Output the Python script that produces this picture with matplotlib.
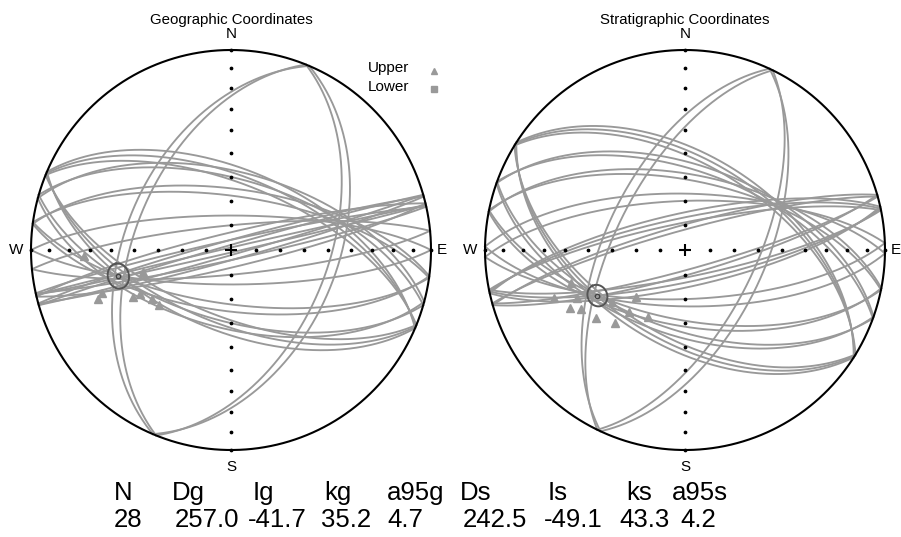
import numpy as np
import matplotlib.pyplot as plt

plt.rcParams['font.family'] = ['Liberation Sans', 'DejaVu Sans']

# remagnetisation great circles (strike, dip in degrees)
geo_strike = [23, 22, 74.5, 74, 77, 77.5, 76.5, 84.5, 90, 98, 97.5, 106, 105, 112.5, 113, 112]
geo_dip = [46, 50, 86, 88, 89, 86, 83, 80, 76, 68, 65, 61, 58, 60, 57, 63]
strat_strike = [26, 25, 74, 74.5, 78, 78.5, 77.5, 88, 91, 101.5, 101, 110, 109.5, 122, 122.5, 121.5]
strat_dip = [61, 57, 80, 82, 77, 79, 75, 70, 67, 61.5, 59, 57.5, 55, 53, 51, 55]

# set-point directions (upper hemisphere)
geo_dec = [267.7, 251.6, 249.8, 244.4, 244.2, 238.2, 232.6, 256.0]
geo_inc = [-27.3, -32.5, -29.9, -44.8, -48.2, -51.6, -52.6, -52.6]
strat_dec = [253.9, 249.9, 246.0, 243.2, 240.4, 232.6, 223.8, 222.1, 208.9, 226.2, 234.5]
strat_inc = [-40.4, -30.9, -40.6, -35.8, -39.9, -43.3, -48.1, -55.6, -58.6, -62.2, -53.0]

# Fisher means
geo_mean_dec, geo_mean_inc, geo_a95 = 257.0, -41.7, 4.7
strat_mean_dec, strat_mean_inc, strat_a95 = 242.5, -49.1, 4.2

stats_header = ["N", "Dg", "Ig", "kg", "a95g", "Ds", "Is", "ks", "a95s"]
stats_values = ["28", "257.0", "-41.7", "35.2", "4.7", "242.5", "-49.1", "43.3", "4.2"]

GREY = '#999999'


def project(e, n, z):
    # Schmidt equal-area, hemisphere folded by |z|
    k = 1.0 / np.sqrt(1.0 + np.abs(z))
    return e * k, n * k


def dir_xy(dec, inc):
    d = np.radians(np.asarray(dec, float))
    i = np.radians(np.asarray(inc, float))
    return project(np.cos(i) * np.sin(d), np.cos(i) * np.cos(d), np.sin(i))


def great_circle(ax, strike, dip):
    t = np.radians(np.linspace(0, 180, 361))
    s = np.radians(strike)
    d = np.radians(dip)
    e = np.cos(t) * np.sin(s) + np.sin(t) * np.cos(d) * np.sin(s + np.pi / 2)
    n = np.cos(t) * np.cos(s) + np.sin(t) * np.cos(d) * np.cos(s + np.pi / 2)
    z = np.sin(t) * np.sin(d)
    x, y = project(e, n, z)
    ax.plot(x, y, color=GREY, lw=1.35)
    ax.plot(-x, -y, color=GREY, lw=1.35)


def small_circle(ax, dec, inc, a95):
    d, i = np.radians(dec), np.radians(inc)
    m = np.array([np.cos(i) * np.sin(d), np.cos(i) * np.cos(d), np.sin(i)])
    u = np.cross(m, [0, 0, 1.0])
    u /= np.linalg.norm(u)
    v = np.cross(m, u)
    phi = np.linspace(0, 2 * np.pi, 200)
    a = np.radians(a95)
    pts = np.cos(a) * m[:, None] + np.sin(a) * (np.outer(u, np.cos(phi)) + np.outer(v, np.sin(phi)))
    x, y = project(pts[0], pts[1], pts[2])
    ax.plot(x, y, color='#555555', lw=1.4, zorder=5)
    mx, my = dir_xy(dec, inc)
    ax.plot(mx, my, 'o', ms=3.2, mfc='none', mec='#444444', mew=1.0, zorder=6)


def net(ax, title):
    ax.set_xlim(-1.1, 1.1)
    ax.set_ylim(-1.1, 1.1)
    ax.set_aspect('equal')
    ax.axis('off')
    th = np.linspace(0, 2 * np.pi, 400)
    ax.plot(np.cos(th), np.sin(th), color='black', lw=1.5, zorder=4)
    incs = np.arange(0, 90, 10)
    for az in [0, 90, 180, 270]:
        x, y = dir_xy(np.full(len(incs), az), incs)
        ax.plot(x, y, 'o', color='black', ms=1.7, zorder=4)
    ax.plot(0, 0, '+', color='black', ms=9, mew=1.5, zorder=4)
    ax.text(0, 1.045, 'N', ha='center', va='bottom', fontsize=11)
    ax.text(0, -1.05, 'S', ha='center', va='top', fontsize=11)
    ax.text(-1.04, 0, 'W', ha='right', va='center', fontsize=11)
    ax.text(1.03, 0, 'E', ha='left', va='center', fontsize=11)
    ax.text(0, 1.15, title, ha='center', va='center', fontsize=10.8)


fig = plt.figure(figsize=(9.01, 5.37), dpi=100)
W, H = 901, 537
ax1 = fig.add_axes([(231 - 220) / W, (H - 250 - 220) / H, 440 / W, 440 / H])
ax2 = fig.add_axes([(685 - 220) / W, (H - 250 - 220) / H, 440 / W, 440 / H])

net(ax1, 'Geographic Coordinates')
for s, d in zip(geo_strike, geo_dip):
    great_circle(ax1, s, d)
gx, gy = dir_xy(geo_dec, geo_inc)
ax1.plot(gx, gy, '^', color=GREY, ms=5.5, zorder=5)
small_circle(ax1, geo_mean_dec, geo_mean_inc, geo_a95)

# legend
ax1.text(0.685, 0.91, 'Upper', ha='left', va='center', fontsize=11)
ax1.text(0.685, 0.815, 'Lower', ha='left', va='center', fontsize=11)
ax1.plot(1.015, 0.895, '^', color=GREY, ms=5, clip_on=False)
ax1.plot(1.015, 0.805, 's', color=GREY, ms=5, clip_on=False)

net(ax2, 'Stratigraphic Coordinates')
for s, d in zip(strat_strike, strat_dip):
    great_circle(ax2, s, d)
sx, sy = dir_xy(strat_dec, strat_inc)
ax2.plot(sx, sy, '^', color=GREY, ms=5.5, zorder=5)
small_circle(ax2, strat_mean_dec, strat_mean_inc, strat_a95)

for a in (ax1, ax2):
    for t in a.texts:
        t.set_clip_on(False)
    for l in a.lines:
        l.set_clip_on(False)

# summary table under the nets
head_x = [114, 172, 253, 324, 387, 460, 548, 626, 672]
val_x = [114, 175, 248, 321, 387, 463, 544, 619, 680]
for x, s in zip(head_x, stats_header):
    fig.text(x / W, 1 - 500 / H, s, fontsize=18.5, ha='left', va='baseline')
for x, s in zip(val_x, stats_values):
    fig.text(x / W, 1 - 527 / H, s, fontsize=18.5, ha='left', va='baseline')

fig.savefig('out.png', dpi=100)
